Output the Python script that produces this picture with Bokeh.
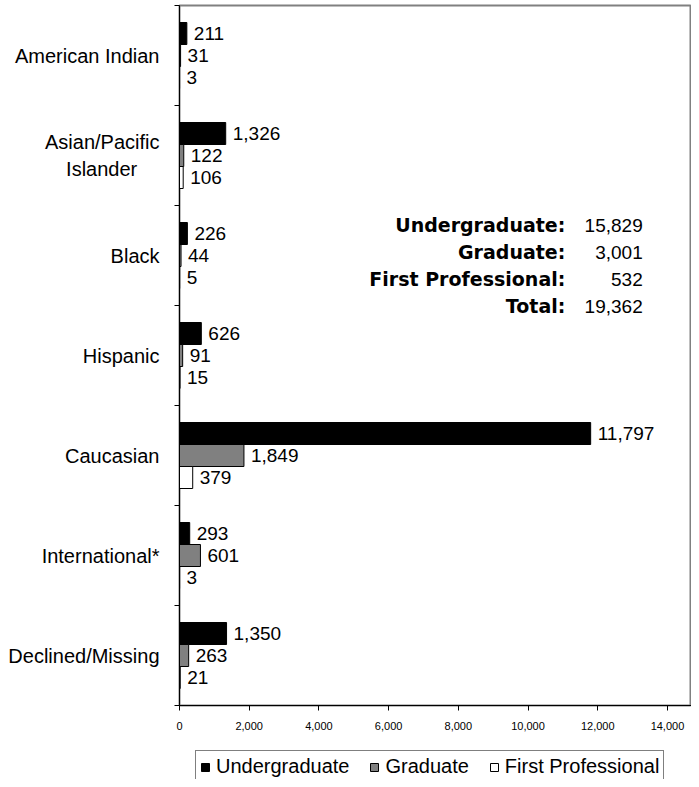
from bokeh.plotting import figure
from bokeh.layouts import column
from bokeh.models import (Range1d, FixedTicker, NumeralTickFormatter, ColumnDataSource,
                          Legend, LegendItem)
from bokeh.core.properties import value
from bokeh.embed import file_html
from bokeh.resources import INLINE

categories = ["American Indian", "Asian/Pacific\nIslander\u00a0\u00a0\u00a0\u00a0", "Black", "Hispanic",
              "Caucasian", "International*", "Declined/Missing"]
undergraduate = [211, 1326, 226, 626, 11797, 293, 1350]
graduate = [31, 122, 44, 91, 1849, 601, 263]
first_professional = [3, 106, 5, 15, 379, 3, 21]
series_names = ["Undergraduate", "Graduate", "First Professional"]
x_ticks = [0, 2000, 4000, 6000, 8000, 10000, 12000, 14000]
summary_labels = ["Undergraduate:", "Graduate:", "First Professional:", "Total:"]
summary_values = [15829, 3001, 532, 19362]

FONT = "Liberation Sans"
n = len(categories)
W = 691

p = figure(width=W, height=745, output_backend="svg", toolbar_location=None,
           x_range=Range1d(0, 14690), y_range=Range1d(n, 0),
           min_border_left=179, min_border_right=0, min_border_top=5,
           min_border_bottom=40, background_fill_color="white",
           border_fill_color="white")

p.xgrid.visible = False
p.ygrid.visible = False
p.outline_line_color = "#808080"
p.outline_line_width = 2

centers = [i + 0.5 for i in range(n)]
bar_h = 0.22
offsets = [-bar_h, 0.0, bar_h]
colors = ["black", "#808080", "white"]
series_values = [undergraduate, graduate, first_professional]

for vals, off, col in zip(series_values, offsets, colors):
    src = ColumnDataSource(dict(y=[c + off for c in centers], right=vals,
                                label=[f"{v:,}" for v in vals]))
    p.hbar(y="y", left=0, right="right", height=bar_h, fill_color=col,
           line_color="black", line_width=1, source=src)
    p.text(x="right", y="y", text="label", source=src, x_offset=7,
           text_align="left", text_baseline="middle", text_font=value(FONT),
           text_font_size="19px", text_color="black")

# y axis: labels at centres, ticks at band boundaries
ya = p.yaxis[0]
ya.ticker = FixedTicker(ticks=centers, minor_ticks=list(range(n + 1)))
ya.major_label_overrides = {c: cat for c, cat in zip(centers, categories)}
ya.major_tick_out = 0
ya.major_tick_in = 0
ya.minor_tick_out = 5
ya.minor_tick_in = 0
ya.minor_tick_line_color = "black"
ya.axis_line_color = "black"
ya.major_label_standoff = 15
ya.major_label_text_font = FONT
ya.major_label_text_font_size = "20px"
ya.major_label_text_color = "black"

xa = p.xaxis[0]
xa.ticker = FixedTicker(ticks=x_ticks)
xa.formatter = NumeralTickFormatter(format="0,0")
xa.major_tick_out = 5
xa.major_tick_in = 0
xa.major_tick_line_color = "black"
xa.axis_line_color = "black"
xa.major_label_standoff = 11
xa.major_label_text_font = FONT
xa.major_label_text_font_size = "11px"
xa.major_label_text_color = "black"

# summary block
row_y = [2.195 + 0.27 * i for i in range(len(summary_labels))]
p.text(x=[11070] * len(summary_labels), y=row_y, text=summary_labels,
       text_align="right", text_baseline="middle", text_font=value("DejaVu Sans"),
       text_font_size="19px", text_font_style="bold", text_color="black")
p.text(x=[13290] * len(summary_values), y=row_y, text=[f"{v:,}" for v in summary_values],
       text_align="right", text_baseline="middle", text_font=value(FONT),
       text_font_size="19px", text_color="black")

# legend strip below the chart (its own renderers sit outside its visible range)
lg = figure(width=W, height=34, output_backend="svg", toolbar_location=None,
            x_range=Range1d(-2, -1), y_range=Range1d(-2, -1),
            min_border_left=179, min_border_right=0, min_border_top=0,
            min_border_bottom=0, background_fill_color="white",
            border_fill_color="white")
lg.axis.visible = False
lg.grid.visible = False
lg.outline_line_color = None
leg_renderers = []
for vals, col in zip(series_values, colors):
    r = lg.hbar(y=centers, left=0, right=vals, height=bar_h, fill_color=col,
                line_color="black", line_width=1)
    leg_renderers.append(r)

legend = Legend(items=[LegendItem(label=nm, renderers=[r]) for nm, r in zip(series_names, leg_renderers)],
                orientation="horizontal", location=(16, -4), margin=0,
                border_line_color="black", border_line_width=1,
                background_fill_color="white", background_fill_alpha=1,
                label_text_font=FONT, label_text_font_size="20px",
                label_text_color="black", glyph_width=10, glyph_height=10,
                label_standoff=6, spacing=20, padding=4)
lg.add_layout(legend, "center")

layout = column(p, lg, spacing=0)
open("out.html", "w").write(file_html(layout, INLINE))
